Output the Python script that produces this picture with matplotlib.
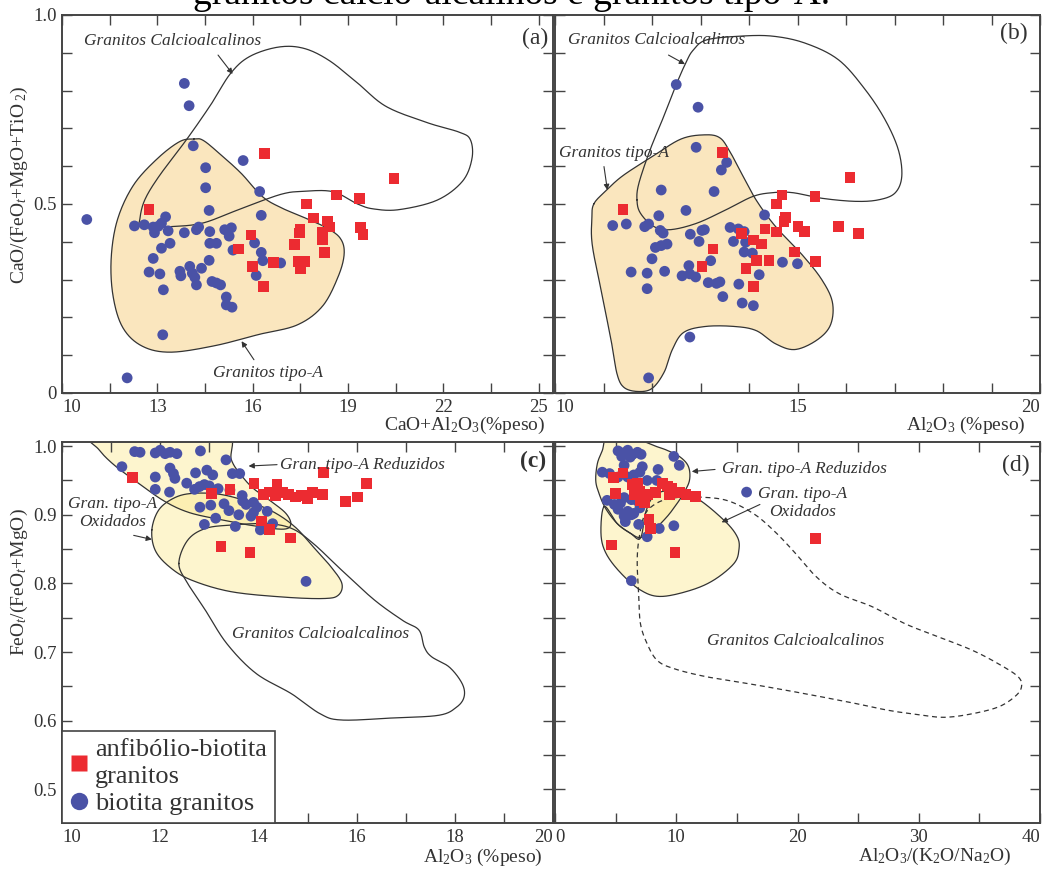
import numpy as np
import matplotlib
matplotlib.use('Agg')
import matplotlib.pyplot as plt
from matplotlib.lines import Line2D

plt.rcParams['font.family'] = ['Liberation Serif', 'DejaVu Serif']
plt.rcParams['mathtext.fontset'] = 'custom'
plt.rcParams['mathtext.rm'] = 'Liberation Serif'
plt.rcParams['mathtext.it'] = 'Liberation Serif:italic'

# ---------------- data ----------------
# panel (a): CaO+Al2O3 vs CaO/(FeOt+MgO+TiO2)
a_bio_x = [13.85,14.00,14.13,15.70,14.52,14.52,16.22,14.63,16.27,10.78,12.28,12.59,12.87,13.03,13.26,13.13,12.91,13.34,13.85,14.23,14.30,14.65,15.12,15.33,15.26,14.65,14.86,13.40,13.13,15.38,16.06,12.87,14.63,16.27,16.32,16.88,12.74,13.08,13.71,14.02,14.10,14.39,13.74,14.18,16.11,13.19,14.23,14.72,14.86,14.99,15.17,15.17,15.35,13.17,12.05]
a_bio_y = [0.819,0.760,0.654,0.615,0.596,0.543,0.533,0.483,0.470,0.459,0.442,0.445,0.439,0.441,0.466,0.449,0.424,0.429,0.424,0.432,0.439,0.427,0.432,0.437,0.415,0.396,0.396,0.396,0.383,0.378,0.397,0.356,0.351,0.372,0.350,0.344,0.320,0.315,0.322,0.335,0.317,0.330,0.310,0.306,0.311,0.273,0.286,0.295,0.291,0.286,0.254,0.233,0.227,0.154,0.040]
a_amp_x = [16.38,12.74,20.45,18.64,19.35,17.70,17.91,18.36,18.42,17.49,17.48,18.19,18.19,19.40,19.47,15.95,15.56,17.31,18.27,15.99,16.66,17.45,17.65,17.51,16.35]
a_amp_y = [0.634,0.485,0.567,0.524,0.515,0.500,0.463,0.455,0.439,0.433,0.423,0.426,0.405,0.438,0.420,0.418,0.381,0.392,0.372,0.335,0.345,0.348,0.348,0.330,0.282]

# panel (b): Al2O3 vs CaO/(FeOt+MgO+TiO2)
b_bio_x = [12.50,12.95,12.91,13.54,13.43,12.19,13.28,12.70,14.32,11.19,11.47,11.85,11.93,12.14,12.17,12.23,12.79,13.03,13.08,12.97,13.61,13.78,13.90,13.68,13.93,12.07,12.19,12.31,12.00,13.90,14.07,13.21,14.69,15.00,11.57,11.90,12.26,12.76,12.62,12.78,12.90,13.16,13.33,13.40,14.21,13.79,11.90,13.46,13.86,14.09,12.78,11.93]
b_bio_y = [0.816,0.756,0.650,0.610,0.590,0.537,0.533,0.483,0.471,0.443,0.447,0.440,0.447,0.469,0.430,0.423,0.420,0.430,0.432,0.401,0.438,0.434,0.427,0.401,0.399,0.385,0.390,0.394,0.355,0.373,0.370,0.350,0.346,0.342,0.320,0.317,0.322,0.337,0.310,0.315,0.307,0.292,0.290,0.294,0.313,0.288,0.276,0.255,0.238,0.231,0.148,0.040]
b_amp_x = [13.45,11.40,16.08,14.68,14.57,15.36,14.75,14.72,14.33,14.57,15.01,15.14,15.84,16.26,13.85,14.09,14.26,13.26,14.94,14.16,14.41,15.37,13.03,13.94,14.10]
b_amp_y = [0.636,0.486,0.570,0.524,0.500,0.520,0.465,0.454,0.434,0.426,0.440,0.427,0.440,0.421,0.421,0.405,0.394,0.381,0.373,0.350,0.350,0.348,0.335,0.330,0.282]

# panel (c): Al2O3 vs FeOt/(FeOt+MgO)
c_bio_x = [11.22,11.48,11.59,11.90,12.00,12.10,12.20,12.34,12.82,13.34,12.20,12.27,12.30,11.90,12.72,12.95,13.07,13.47,13.62,11.90,12.19,12.54,12.70,12.80,12.90,13.00,13.18,13.42,13.67,13.68,12.81,13.03,13.30,13.40,13.75,13.90,13.97,13.13,13.60,13.85,13.90,14.18,12.90,13.53,14.04,14.29,14.97]
c_bio_y = [0.970,0.992,0.991,0.990,0.994,0.989,0.991,0.989,0.993,0.980,0.968,0.960,0.953,0.955,0.961,0.965,0.958,0.960,0.960,0.937,0.933,0.946,0.937,0.941,0.944,0.942,0.938,0.936,0.928,0.920,0.911,0.914,0.916,0.906,0.915,0.918,0.911,0.895,0.900,0.898,0.903,0.905,0.886,0.883,0.878,0.887,0.803]
c_amp_x = [11.43,13.04,13.42,13.91,14.38,15.32,14.10,14.22,14.35,14.50,14.62,14.75,14.88,15.00,15.10,15.30,15.78,16.02,16.20,14.07,14.22,14.65,13.24,13.83]
c_amp_y = [0.954,0.931,0.937,0.946,0.944,0.962,0.930,0.933,0.928,0.932,0.930,0.926,0.928,0.924,0.932,0.929,0.919,0.926,0.946,0.891,0.879,0.866,0.854,0.845]

# panel (d): Al2O3/(K2O/Na2O) vs FeOt/(FeOt+MgO)
d_bio_x = [5.2,5.6,6.0,6.4,6.8,7.1,5.5,6.2,9.8,10.25,8.5,3.9,4.5,5.7,7.2,6.5,7.0,5.2,6.0,7.6,8.4,4.3,4.9,5.4,5.7,6.3,6.8,5.2,6.0,6.5,7.0,5.7,6.3,5.8,6.9,8.6,9.8,7.6,6.3,15.8]
d_bio_y = [0.993,0.990,0.994,0.988,0.991,0.988,0.985,0.984,0.985,0.972,0.966,0.962,0.960,0.972,0.970,0.958,0.962,0.955,0.955,0.950,0.950,0.921,0.915,0.917,0.925,0.922,0.920,0.908,0.905,0.902,0.910,0.898,0.900,0.890,0.886,0.880,0.884,0.868,0.804,0.933]
d_amp_x = [4.81,5.60,5.02,6.40,6.80,6.55,6.95,7.25,7.60,7.05,7.40,8.30,8.85,9.25,9.60,9.45,10.25,10.80,11.60,7.76,7.90,4.66,9.90,21.5]
d_amp_y = [0.954,0.961,0.931,0.944,0.946,0.930,0.934,0.928,0.930,0.921,0.918,0.932,0.945,0.942,0.938,0.930,0.932,0.930,0.927,0.893,0.880,0.856,0.845,0.865]

# discrimination fields (outline vertices)
tipoA_a_x = [14.15,14.45,15.0,15.64,16.3,16.9,17.6,18.3,18.75,18.88,18.7,18.2,17.4,16.2,14.8,13.4,12.5,11.9,11.6,11.55,11.75,12.25,13.0,13.7]
tipoA_a_y = [0.672,0.668,0.630,0.581,0.52,0.49,0.465,0.438,0.41,0.37,0.31,0.23,0.18,0.155,0.125,0.108,0.125,0.175,0.26,0.36,0.46,0.55,0.62,0.665]
calc_a_x = [12.5,13.4,14.4,15.4,16.37,17.0,17.5,18.5,19.3,19.8,20.6,21.8,22.6,22.9,22.85,22.5,21.5,20.2,19.3,18.4,17.6,16.8,15.9,15.3,14.7,13.95,13.05,12.6,12.45]
calc_a_y = [0.44,0.44,0.449,0.48,0.511,0.528,0.533,0.533,0.50,0.487,0.485,0.51,0.56,0.62,0.67,0.69,0.715,0.758,0.82,0.88,0.912,0.915,0.89,0.845,0.765,0.674,0.573,0.51,0.46]

tipoA_b_x = [10.80,11.05,11.4,12.0,12.6,13.1,13.4,13.6,13.85,14.15,14.55,15.1,15.5,15.72,15.68,15.4,14.95,14.55,14.15,13.7,13.1,12.65,12.42,12.25,12.0,11.7,11.42,11.28,11.17,10.97,10.77,10.76]
tipoA_b_y = [0.50,0.535,0.575,0.625,0.672,0.683,0.675,0.64,0.58,0.51,0.44,0.365,0.30,0.24,0.18,0.14,0.115,0.13,0.165,0.176,0.176,0.16,0.115,0.055,0.012,0.004,0.015,0.05,0.13,0.26,0.39,0.46]
calc_b_x = [11.69,11.76,12.03,12.37,12.92,13.53,14.08,14.49,14.9,15.51,16.19,16.67,17.01,17.15,17.08,16.81,16.4,15.85,15.17,14.49,13.81,13.12,12.85,12.71,12.51,12.24,11.96,11.73]
calc_b_y = [0.511,0.476,0.441,0.432,0.449,0.485,0.52,0.530,0.530,0.515,0.507,0.511,0.529,0.573,0.643,0.722,0.802,0.881,0.925,0.944,0.944,0.934,0.907,0.877,0.819,0.731,0.643,0.555]

red_c_x = [10.55,10.75,11.07,11.54,12.08,12.6,13.3,13.9,14.5,14.66,14.56,14.25,13.92,13.68,13.45,13.35,12.0]
red_c_y = [1.02,0.995,0.972,0.947,0.92,0.903,0.892,0.884,0.879,0.886,0.902,0.92,0.937,0.955,0.98,1.02,1.03]
oxi_c_x = [11.83,11.97,12.27,12.63,13.2,13.8,14.31,14.75,15.12,15.48,15.70,15.63,15.34,14.53,13.44,12.63,12.19,11.90]
oxi_c_y = [0.878,0.907,0.924,0.931,0.93,0.919,0.904,0.882,0.853,0.824,0.800,0.783,0.778,0.780,0.788,0.805,0.824,0.848]
calc_c_x = [12.38,12.56,12.92,13.44,14.17,14.68,15.12,15.70,16.36,16.94,17.27,17.38,17.53,17.89,18.15,18.19,18.04,17.68,16.73,15.70,15.26,14.68,13.95,13.36,12.92,12.56]
calc_c_y = [0.829,0.863,0.880,0.885,0.887,0.880,0.858,0.819,0.776,0.746,0.732,0.707,0.693,0.678,0.654,0.635,0.620,0.608,0.604,0.601,0.610,0.639,0.669,0.712,0.761,0.800]

red_d_x = [4.32,6.0,8.28,9.23,10.33,11.01,11.09,10.6,10.05,9.23,8.14,7.05,6.23,5.14,4.18,3.63,3.36,3.5,3.91]
red_d_y = [1.015,1.015,1.0,0.994,0.984,0.970,0.950,0.931,0.916,0.897,0.878,0.867,0.873,0.887,0.909,0.931,0.950,0.975,0.994]
oxi_d_x = [4.06,5.14,6.23,7.05,7.5,8.2,9.5,11.6,13.94,15.03,15.17,14.76,13.11,11.19,8.72,7.08,5.43,4.2,3.79]
oxi_d_y = [0.912,0.887,0.873,0.866,0.905,0.928,0.935,0.925,0.892,0.868,0.849,0.829,0.805,0.790,0.781,0.790,0.815,0.844,0.873]
calc_d_x = [11.69,14.15,16.34,17.98,19.62,21.53,23.44,26.17,28.91,31.64,34.37,36.56,38.2,38.47,37.92,36.56,34.37,32.19,30.27,27.54,24.81,20.71,16.61,12.51,9.78,8.42,7.6,7.05,6.91,6.78,6.91,7.4,8.5,10.0]
calc_d_y = [0.926,0.921,0.902,0.878,0.848,0.81,0.785,0.766,0.741,0.722,0.703,0.683,0.664,0.649,0.635,0.62,0.61,0.605,0.608,0.615,0.625,0.639,0.652,0.664,0.676,0.688,0.712,0.741,0.78,0.829,0.863,0.9,0.918,0.925]

# ---------------- styling ----------------
W, H = 1045, 869
RED = '#ec2b31'
BLUE = '#4a52a6'
TAN = '#fae6be'
YEL = '#fbe98c'
EDGE = '#333333'
TXT = '#333333'


def smooth_closed(xs, ys, n=24):
    P = np.column_stack([xs, ys]).astype(float)
    N = len(P)
    t = np.linspace(0, 1, n, endpoint=False)[:, None]
    out = []
    for i in range(N):
        p0, p1, p2, p3 = P[(i - 1) % N], P[i], P[(i + 1) % N], P[(i + 2) % N]
        seg = 0.5 * ((2 * p1) + (-p0 + p2) * t + (2 * p0 - 5 * p1 + 4 * p2 - p3) * t ** 2
                     + (-p0 + 3 * p1 - 3 * p2 + p3) * t ** 3)
        out.append(seg)
    out = np.vstack(out + [out[0][:1]])
    return out[:, 0], out[:, 1]


def field(ax, xs, ys, fc=None, alpha=1.0, ls='-', z=1):
    sx, sy = smooth_closed(xs, ys)
    if fc is not None:
        ax.fill(sx, sy, color=fc, alpha=alpha, lw=0, zorder=z)
    ax.plot(sx, sy, color=EDGE, lw=0.9, ls=ls, zorder=z + 0.5)


def pts(ax, bx, by, rx, ry):
    ax.scatter(bx, by, s=60, marker='o', color=BLUE, edgecolors='none', zorder=5, clip_on=True)
    ax.scatter(rx, ry, s=60, marker='s', color=RED, edgecolors='none', zorder=6, clip_on=True)


def frame(ax, xlim, ylim, xt, xtl, yt, ytl, first_left=False, last_right=False):
    ax.set_xlim(*xlim)
    ax.set_ylim(*ylim)
    ax.set_xticks(xt)
    ax.set_xticklabels(xtl)
    ax.set_yticks(yt)
    ax.set_yticklabels(ytl)
    ax.tick_params(direction='in', top=True, right=True, length=7, width=1.0,
                   labelsize=13.5, pad=4, color='#444444', labelcolor=TXT)
    for s in ax.spines.values():
        s.set_linewidth(1.4)
        s.set_color('#444444')
    labs = ax.get_xticklabels()
    if first_left:
        labs[0].set_horizontalalignment('left')
    if last_right:
        labs[-1].set_horizontalalignment('right')


def arrow(ax, xy, xytext):
    ax.annotate('', xy=xy, xytext=xytext,
                arrowprops=dict(arrowstyle='-|>', lw=0.8, color=TXT, mutation_scale=8,
                                shrinkA=0, shrinkB=0), zorder=7)


def note(ax, x, y, s, ha='left', **kw):
    ax.text(x, y, s, ha=ha, va='center', style='italic', fontsize=12.5, color=TXT, zorder=8, **kw)


fig = plt.figure(figsize=(W / 100, H / 100), dpi=100)


def axes_px(l, t, r, b):
    return fig.add_axes([l / W, 1 - b / H, (r - l) / W, (b - t) / H])


axa = axes_px(62, 15, 553, 393)
axb = axes_px(555, 15, 1040, 393)
axc = axes_px(62, 442, 553, 823)
axd = axes_px(555, 442, 1040, 823)

yt01 = np.round(np.arange(0, 1.0001, 0.1), 2)
ytl_a = ['0' if v == 0 else ('0.5' if abs(v - 0.5) < 1e-9 else ('1.0' if abs(v - 1) < 1e-9 else '')) for v in yt01]

# ---- (a)
xt_a = np.arange(10, 25.01, 1.5)
xtl_a = [('%d' % v) if abs((v - 10) % 3) < 1e-9 else '' for v in xt_a]
frame(axa, (10, 25.45), (0, 1), xt_a, xtl_a, yt01, ytl_a, first_left=True)
field(axa, tipoA_a_x, tipoA_a_y, fc=TAN)
field(axa, calc_a_x, calc_a_y, z=2)
pts(axa, a_bio_x, a_bio_y, a_amp_x, a_amp_y)
note(axa, 10.68, 0.930, 'Granitos Calcioalcalinos')
arrow(axa, (15.37, 0.844), (14.91, 0.894))
note(axa, 14.74, 0.053, 'Granitos tipo-A')
arrow(axa, (15.65, 0.137), (16.04, 0.088))
axa.text(25.3, 0.938, '(a)', ha='right', va='center', fontsize=17, color=TXT)

# ---- (b)
xt_b = np.arange(10, 20.01, 1)
xtl_b = [('%d' % v) if v % 5 == 0 else '' for v in xt_b]
frame(axb, (10, 20), (0, 1), xt_b, xtl_b, yt01, [''] * len(yt01), first_left=True, last_right=True)
field(axb, tipoA_b_x, tipoA_b_y, fc=TAN)
field(axb, calc_b_x, calc_b_y, z=2)
pts(axb, b_bio_x, b_bio_y, b_amp_x, b_amp_y)
note(axb, 10.26, 0.934, 'Granitos Calcioalcalinos')
arrow(axb, (12.68, 0.870), (12.34, 0.894))
note(axb, 10.09, 0.636, 'Granitos tipo-A')
arrow(axb, (11.08, 0.537), (11.01, 0.599))
axb.text(19.74, 0.950, '(b)', ha='right', va='center', fontsize=17, color=TXT)

# ---- (c)
yt05 = np.round(np.arange(0.5, 1.0001, 0.05), 2)
ytl_c = [('%.1f' % v) if abs(round(v * 10) - v * 10) < 1e-6 else '' for v in yt05]
xt_c = np.arange(10, 20.01, 1)
xtl_c = [('%d' % v) if v % 2 == 0 else '' for v in xt_c]
frame(axc, (10, 20), (0.451, 1.006), xt_c, xtl_c, yt05, ytl_c, first_left=True, last_right=True)
field(axc, oxi_c_x, oxi_c_y, fc=YEL, alpha=0.42)
field(axc, red_c_x, red_c_y, fc=YEL, alpha=0.42)
field(axc, calc_c_x, calc_c_y, z=2)
pts(axc, c_bio_x, c_bio_y, c_amp_x, c_amp_y)
note(axc, 14.45, 0.972, 'Gran. tipo-A Reduzidos')
arrow(axc, (13.8, 0.971), (14.38, 0.973))
note(axc, 11.03, 0.903, 'Gran. tipo-A\nOxidados', ha='center', linespacing=1.15)
arrow(axc, (11.83, 0.864), (11.46, 0.870))
note(axc, 13.47, 0.727, 'Granitos Calcioalcalinos')
axc.text(19.87, 0.977, '(c)', ha='right', va='center', fontsize=17, color=TXT, fontweight='bold')

leg_handles = [Line2D([], [], ls='none', marker='s', ms=11, color=RED, mec='none'),
               Line2D([], [], ls='none', marker='o', ms=12.5, color=BLUE, mec='none')]
leg = axc.legend(leg_handles, ['anfibólio-biotita\ngranitos', 'biotita granitos'],
                 loc='lower left', bbox_to_anchor=(0, 0), borderaxespad=0,
                 fontsize=19, fancybox=False, framealpha=1, edgecolor='#444444',
                 handlelength=0.7, handletextpad=0.25, borderpad=0.3, labelspacing=0.12)
leg.get_frame().set_linewidth(1.2)
for t in leg.get_texts():
    t.set_color(TXT)
    t.set_linespacing(1.3)
leg.set_zorder(10)

# ---- (d)
xt_d = np.arange(0, 40.01, 5)
xtl_d = [('%d' % v) if v % 10 == 0 else '' for v in xt_d]
frame(axd, (0, 40), (0.451, 1.006), xt_d, xtl_d, yt05, [''] * len(yt05), first_left=True, last_right=True)
field(axd, oxi_d_x, oxi_d_y, fc=YEL, alpha=0.42)
field(axd, red_d_x, red_d_y, fc=YEL, alpha=0.42)
field(axd, calc_d_x, calc_d_y, ls=(0, (4, 3)), z=2)
pts(axd, d_bio_x, d_bio_y, d_amp_x, d_amp_y)
note(axd, 13.74, 0.967, 'Gran. tipo-A Reduzidos')
arrow(axd, (11.28, 0.963), (13.2, 0.966))
note(axd, 20.4, 0.917, 'Gran. tipo-A\nOxidados', ha='center', linespacing=1.15)
arrow(axd, (13.74, 0.889), (16.9, 0.915))
note(axd, 12.51, 0.716, 'Granitos Calcioalcalinos')
axd.text(39.15, 0.972, '(d)', ha='right', va='center', fontsize=17, color=TXT)


# ---- axis labels (figure pixel positions)
def ftext(px, py, s, color=TXT, **kw):
    fig.text(px / W, 1 - py / H, s, color=color, **kw)


ftext(545, 425, 'CaO+Al$_2$O$_3$(%peso)', ha='right', va='center', fontsize=14)
ftext(1026, 425, 'Al$_2$O$_3$ (%peso)', ha='right', va='center', fontsize=14)
ftext(543, 857, 'Al$_2$O$_3$ (%peso)', ha='right', va='center', fontsize=14)
ftext(1011, 856, 'Al$_2$O$_3$/(K$_2$O/Na$_2$O)', ha='right', va='center', fontsize=14)
ftext(19, 185, 'CaO/(FeO$_t$+MgO+TiO$_{\\ 2}$)', ha='center', va='center', rotation=90, fontsize=14)
ftext(19, 582, 'FeO$_t$/(FeO$_t$+MgO)', ha='center', va='center', rotation=90, fontsize=14)

# cut-off caption line at the very top
ftext(512, 4, 'granitos cálcio-alcalinos e granitos tipo-A.', ha='center', va='baseline',
      fontsize=27, color='black')

fig.savefig('out.png', dpi=100)
